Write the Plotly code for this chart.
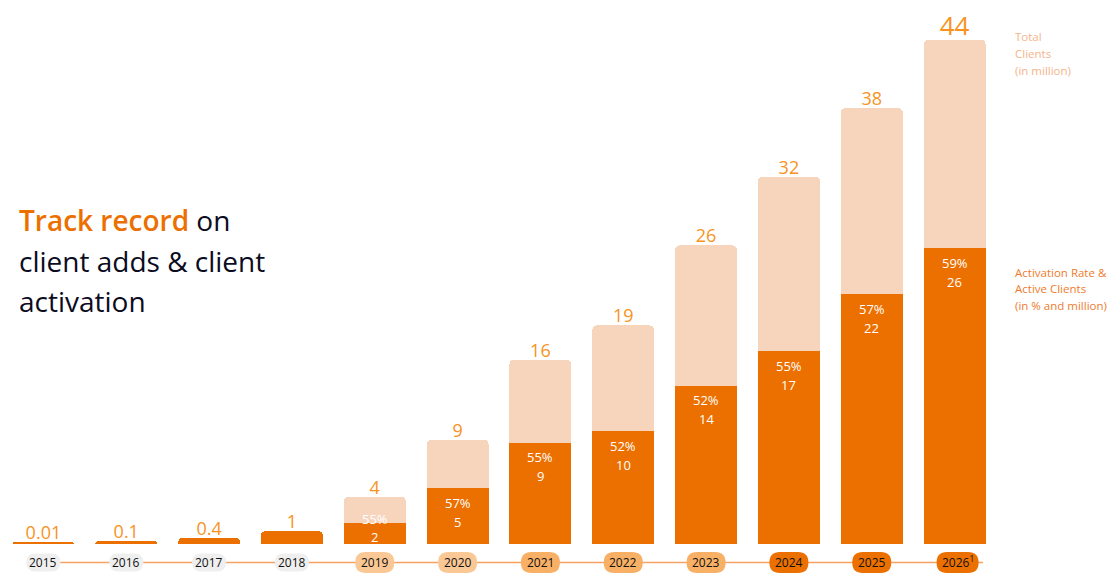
import plotly.graph_objects as go

years = ["2015", "2016", "2017", "2018", "2019", "2020", "2021", "2022", "2023", "2024", "2025", "2026"]
year_labels = ["2015", "2016", "2017", "2018", "2019", "2020", "2021", "2022", "2023", "2024", "2025", "2026<sup>1</sup>"]
total_clients = [0.01, 0.1, 0.4, 1, 4, 9, 16, 19, 26, 32, 38, 44]
total_labels = ["0.01", "0.1", "0.4", "1", "4", "9", "16", "19", "26", "32", "38", "44"]
active_clients = [None, None, None, None, 2, 5, 9, 10, 14, 17, 22, 26]
activation_rate = [None, None, None, None, 55, 57, 55, 52, 52, 55, 57, 59]

DARK = "#EC7000"
LIGHT = "#F7D4BC"
LABEL = "#F7931E"
pill_colors = ["#EFEFEF"] * 4 + ["#FAC894"] * 2 + ["#F8B066"] * 3 + ["#EC7000"] * 3

dark_vals = [a if a is not None else t for a, t in zip(active_clients, total_clients)]
light_vals = [(t - a) if a is not None else None for t, a in zip(total_clients, active_clients)]

fig = go.Figure()
fig.add_trace(go.Bar(x=years, y=dark_vals, marker=dict(color=DARK, line=dict(color=DARK, width=3)),
                     hoverinfo="skip", showlegend=False))
fig.add_trace(go.Bar(x=years, y=light_vals, marker=dict(color=LIGHT, line=dict(color=LIGHT, width=3)),
                     hoverinfo="skip", showlegend=False))
fig.add_trace(go.Scatter(x=years, y=total_clients, mode="text", text=total_labels,
                         textposition="top center",
                         textfont=dict(color=LABEL, size=[18] * 11 + [26], family="Open Sans"),
                         hoverinfo="skip", showlegend=False, cliponaxis=False))

annotations = []
for i, (a, r) in enumerate(zip(active_clients, activation_rate)):
    if a is None:
        continue
    if a < 3:
        y0, anchor, shift = 0, "bottom", -4
    else:
        y0, anchor, shift = a, "top", -5
    annotations.append(dict(x=i, y=y0, xref="x", yref="y", yanchor=anchor, yshift=shift,
                            text=f"{r}%", showarrow=False,
                            font=dict(color="white", size=13, family="Open Sans")))
    annotations.append(dict(x=i, y=y0, xref="x", yref="y", yanchor=anchor,
                            yshift=shift - 19 if anchor == "top" else shift,
                            text=f"{a}", showarrow=False,
                            font=dict(color="white", size=13, family="Open Sans")))
# for bottom-anchored (small) bars, lift the rate line above the value line
for ann in annotations:
    pass

PILL_Y = -0.034
shapes = [dict(type="line", xref="paper", yref="paper", x0=0.025, x1=0.987, y0=PILL_Y, y1=PILL_Y,
               line=dict(color="#F5A263", width=1.5), layer="below")]


def pill(w, h):
    r = h / 2
    hw = w / 2 - r
    return (f"M {-hw},{-r} L {hw},{-r} Q {hw + r},{-r} {hw + r},0 Q {hw + r},{r} {hw},{r} "
            f"L {-hw},{r} Q {-hw - r},{r} {-hw - r},0 Q {-hw - r},{-r} {-hw},{-r} Z")


for i, (lab, c) in enumerate(zip(year_labels, pill_colors)):
    w = 42 if i == 11 else (34 if i < 4 else 39)
    h = 18 if i < 4 else 21
    xs = 3 if i == 11 else 0
    shapes.append(dict(type="path", xref="x", yref="paper", xsizemode="pixel", ysizemode="pixel",
                       xanchor=i + xs / 83.0, yanchor=PILL_Y, path=pill(w, h), fillcolor=c,
                       line=dict(width=0), layer="above"))
    annotations.append(dict(x=i, y=PILL_Y, xref="x", yref="paper", xshift=xs, text=lab, showarrow=False,
                            font=dict(color="#111111", size=12, family="Open Sans"), yanchor="middle"))

title_lines = ["<span style='color:#EC7000;font-weight:600'>Track record</span> on",
               "client adds &amp; client", "activation"]
for line, yp in zip(title_lines, [0.596, 0.521, 0.446]):
    annotations.append(dict(x=0.015, y=yp, xref="paper", yref="paper", xanchor="left", yanchor="middle",
                            align="left", showarrow=False, text=line,
                            font=dict(color="#0B0B1E", size=28, family="Open Sans")))

for line, yp in zip(["Total", "Clients", "(in million)"], [0.932, 0.902, 0.871]):
    annotations.append(dict(x=1.017, y=yp, xref="paper", yref="paper", xanchor="left", yanchor="middle",
                            align="left", showarrow=False, text=line,
                            font=dict(color="#F5B48A", size=11.5, family="Open Sans")))
for line, yp in zip(["Activation Rate &amp;", "Active Clients", "(in % and million)"], [0.5, 0.469, 0.439]):
    annotations.append(dict(x=1.017, y=yp, xref="paper", yref="paper", xanchor="left", yanchor="middle",
                            align="left", showarrow=False, text=line,
                            font=dict(color="#EE7B2E", size=11.5, family="Open Sans")))

# small-bar labels: stack rate above value
small = [k for k, ann in enumerate(annotations) if ann.get("yanchor") == "bottom" and ann.get("yref") == "y"]
if len(small) == 2:
    annotations[small[0]]["yshift"] = annotations[small[0]]["yshift"] + 18

fig.update_layout(
    width=1114, height=584,
    margin=dict(l=2, r=118, t=0, b=40),
    barmode="stack", bargap=0.288, barcornerradius=3,
    plot_bgcolor="white", paper_bgcolor="white",
    xaxis=dict(type="category", categoryorder="array", categoryarray=years, range=[-0.5, 11.5],
               autorange=False, showticklabels=False, showgrid=False, zeroline=False, showline=False),
    yaxis=dict(range=[0, 47.6], autorange=False, visible=False, showgrid=False),
    shapes=shapes, annotations=annotations,
    font=dict(family="Open Sans"),
)

fig.write_html("out.html", config={"displayModeBar": False},
               post_script="document.body.style.margin='0';document.body.style.overflow='hidden';")
